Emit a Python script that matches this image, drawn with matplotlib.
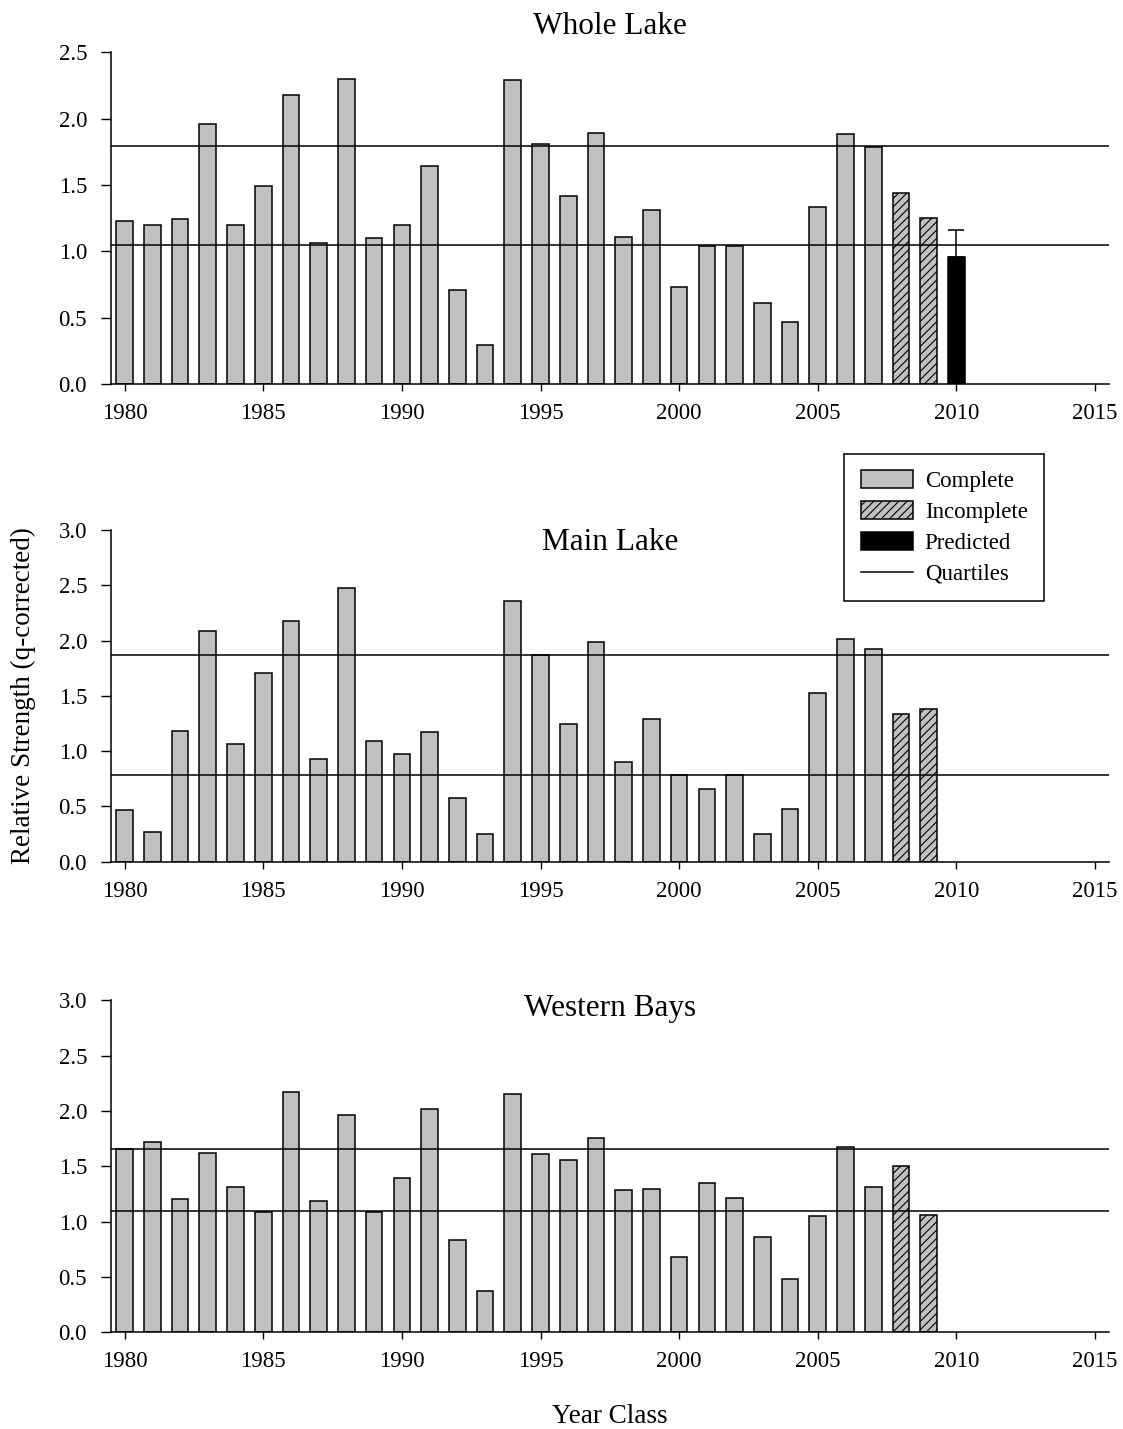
import matplotlib
matplotlib.use("Agg")
import matplotlib.pyplot as plt
from matplotlib.patches import Patch
from matplotlib.lines import Line2D

plt.rcParams['font.family'] = 'Liberation Serif'
plt.rcParams['hatch.linewidth'] = 0.8

# year classes
years_complete = list(range(1980, 2008))
years_incomplete = [2008, 2009]
year_predicted = [2010]

# Whole Lake
whole_complete = [1.23, 1.20, 1.245, 1.96, 1.20, 1.49, 2.18, 1.065, 2.30, 1.10,
                  1.20, 1.64, 0.71, 0.295, 2.29, 1.81, 1.42, 1.895, 1.11, 1.315,
                  0.73, 1.04, 1.045, 0.61, 0.47, 1.335, 1.885, 1.785]
whole_incomplete = [1.44, 1.25]
whole_predicted = [0.955]
whole_pred_err = [0.205]
whole_quartiles = [1.052, 1.795]

# Main Lake
main_complete = [0.465, 0.265, 1.18, 2.09, 1.065, 1.705, 2.175, 0.93, 2.475, 1.09,
                 0.975, 1.175, 0.575, 0.25, 2.36, 1.87, 1.245, 1.99, 0.90, 1.29,
                 0.78, 0.655, 0.78, 0.25, 0.475, 1.525, 2.015, 1.92]
main_incomplete = [1.34, 1.38]
main_quartiles = [0.78, 1.87]

# Western Bays
west_complete = [1.655, 1.715, 1.20, 1.62, 1.31, 1.09, 2.175, 1.185, 1.965, 1.09,
                 1.39, 2.015, 0.835, 0.37, 2.15, 1.615, 1.56, 1.76, 1.29, 1.295,
                 0.68, 1.35, 1.21, 0.86, 0.485, 1.05, 1.67, 1.31]
west_incomplete = [1.50, 1.06]
west_quartiles = [1.093, 1.657]

gray = '#c0c0c0'
w = 0.6

fig = plt.figure(figsize=(11.23, 14.29), dpi=100)
positions = [[0.0986, 0.7311, 0.8889, 0.2323],
             [0.0986, 0.3970, 0.8889, 0.2321],
             [0.0986, 0.0677, 0.8889, 0.2323]]

panels = [
    (whole_complete, whole_incomplete, whole_quartiles, 2.5),
    (main_complete, main_incomplete, main_quartiles, 3.0),
    (west_complete, west_incomplete, west_quartiles, 3.0),
]

axes = []
for pos, (comp, inc, quart, ymax) in zip(positions, panels):
    ax = fig.add_axes(pos)
    ax.bar(years_complete, comp, width=w, color=gray, edgecolor='black', linewidth=1.1, zorder=2)
    ax.bar(years_incomplete, inc, width=w, color=gray, edgecolor='black', linewidth=1.1,
           hatch='////', zorder=2)
    for q in quart:
        ax.axhline(q, color='black', linewidth=1.1, zorder=3)
    ax.set_xlim(1979.5, 2015.5)
    ax.set_ylim(0, ymax)
    ax.set_xticks([1980, 1985, 1990, 1995, 2000, 2005, 2010, 2015])
    ax.set_yticks([v * 0.5 for v in range(int(ymax / 0.5) + 1)])
    ax.set_yticklabels([f"{v * 0.5:.1f}" for v in range(int(ymax / 0.5) + 1)])
    ax.spines['top'].set_visible(False)
    ax.spines['right'].set_visible(False)
    for s in ['left', 'bottom']:
        ax.spines[s].set_linewidth(1.1)
    ax.tick_params(axis='x', direction='out', length=4.8, width=1.0, labelsize=16.5, pad=9)
    ax.tick_params(axis='y', direction='out', length=7, width=1.0, labelsize=16.5, pad=10)
    axes.append(ax)

# predicted bar with error
axes[0].bar(year_predicted, whole_predicted, width=w, color='black', edgecolor='black',
            linewidth=1.1, zorder=2)
axes[0].errorbar(year_predicted, whole_predicted, yerr=[[0], whole_pred_err], fmt='none',
                 ecolor='black', elinewidth=1.1, capsize=5.8, capthick=1.1, zorder=3)

fig.text(0.5432, 0.976, "Whole Lake", fontsize=22.5, ha='center', va='baseline')
fig.text(0.5432, 0.6151, "Main Lake", fontsize=22.5, ha='center', va='baseline')
fig.text(0.5432, 0.289, "Western Bays", fontsize=22.5, ha='center', va='baseline')

fig.text(0.021, 0.5136, "Relative Strength (q-corrected)", fontsize=19.5,
         rotation=90, ha='center', va='center')
fig.text(0.5432, 0.0045, "Year Class", fontsize=19.5, ha='center', va='baseline')

handles = [Patch(facecolor=gray, edgecolor='black', linewidth=1.1),
           Patch(facecolor=gray, edgecolor='black', linewidth=1.1, hatch='////'),
           Patch(facecolor='black', edgecolor='black', linewidth=1.1),
           Line2D([0], [0], color='black', linewidth=1.1)]
labels = ['Complete', 'Incomplete', 'Predicted', 'Quartiles']
leg = fig.legend(handles, labels, loc='upper left', bbox_to_anchor=(0.7516, 0.6823),
                 borderaxespad=0, fontsize=16.5, frameon=True, fancybox=False,
                 edgecolor='black', framealpha=1, handlelength=2.3, handleheight=0.8,
                 handletextpad=0.5, labelspacing=0.4, borderpad=0.72)
leg.get_frame().set_linewidth(1.1)

fig.savefig("out.png", dpi=100)
